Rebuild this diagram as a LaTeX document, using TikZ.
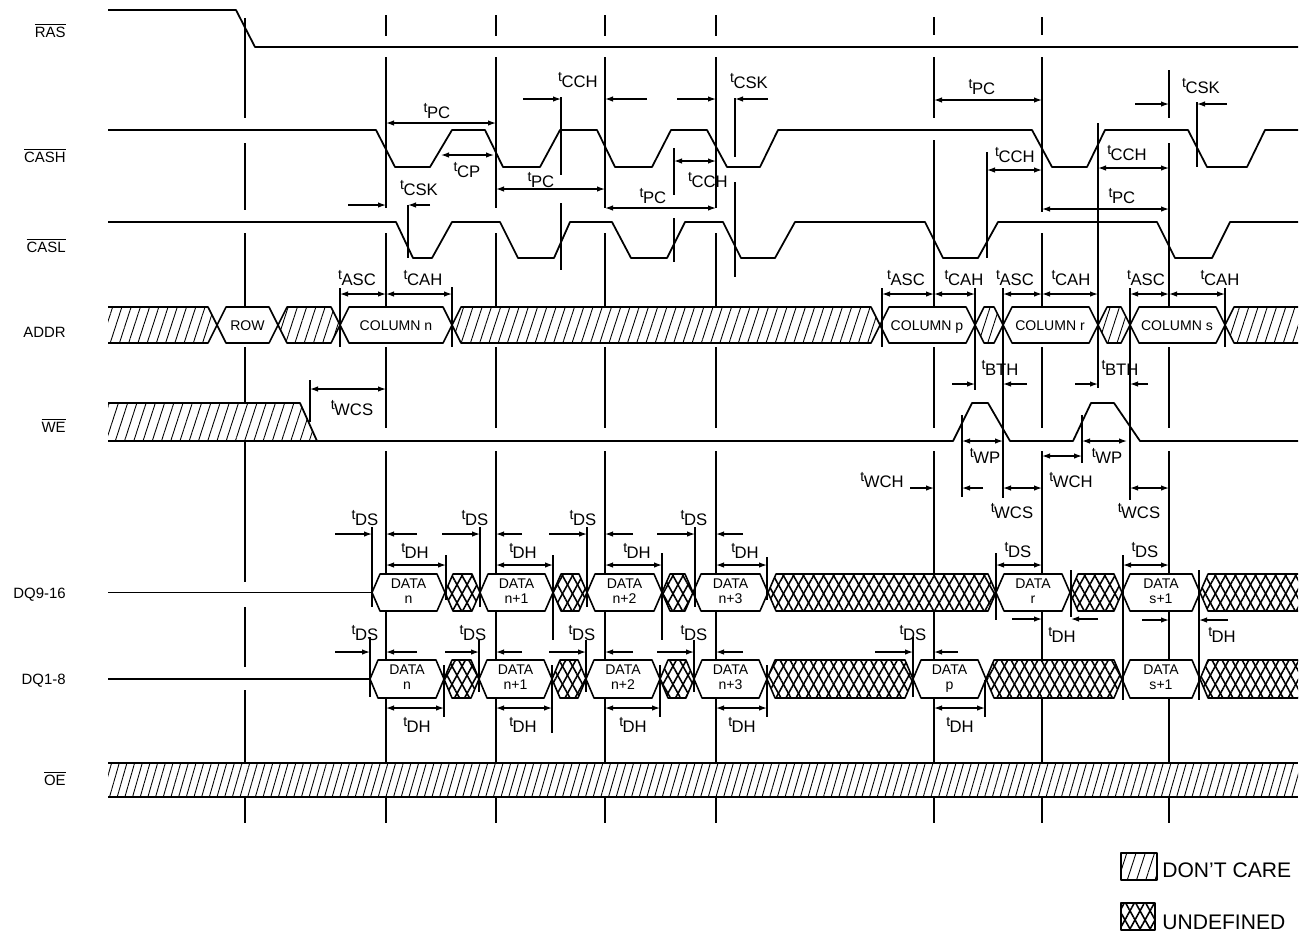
\documentclass[tikz,border=0pt]{standalone}
\usepackage{fontspec}
\setmainfont{Liberation Sans}
\usepackage{tikz}
\usetikzlibrary{arrows.meta}
\usetikzlibrary{patterns.meta}

% timing label: small raised t, then the parameter name
\newcommand{\tlab}[1]{\raisebox{3.2pt}{\fontsize{8}{8}\selectfont t}\kern-0.3pt{\fontsize{9.5}{10}\selectfont #1}}
\newcommand{\ovl}[1]{$\overline{\mbox{#1}}$}

% bus cells: style, left point, right point, top, bottom, inset
\newcommand{\cell}[6]{%
  \path[#1] (#2,{(#4+#5)/2}) -- ({#2+#6},#4) -- ({#3-#6},#4) -- (#3,{(#4+#5)/2}) -- ({#3-#6},#5) -- ({#2+#6},#5) -- cycle;}
\newcommand{\lcell}[6]{%
  \path[#1] (#2,#4) -- ({#3-#6},#4) -- (#3,{(#4+#5)/2}) -- ({#3-#6},#5) -- (#2,#5);}
\newcommand{\rcell}[6]{%
  \path[#1] (#3,#4) -- ({#2+#6},#4) -- (#2,{(#4+#5)/2}) -- ({#2+#6},#5) -- (#3,#5);}
\newcommand{\ucell}[5]{\cell{undefa}{#1}{#2}{#3}{#4}{#5}\cell{undefb,bus}{#1}{#2}{#3}{#4}{#5}}

\tikzset{
  wave/.style={line width=1pt, line join=round},
  bus/.style={draw, line width=0.9pt, line join=round},
  vline/.style={line width=0.7pt},
  dim/.style={{Latex[length=1.6mm,width=1.1mm]}-{Latex[length=1.6mm,width=1.1mm]}, line width=0.7pt},
  into/.style={-{Latex[length=1.6mm,width=1.1mm]}, line width=0.7pt},
  dcare/.style={pattern={Lines[angle=72,distance=5pt,line width=0.5pt]}},
  dcfine/.style={pattern={Lines[angle=74,distance=4.2pt,line width=0.5pt]}},
  undefa/.style={pattern={Lines[angle=61,distance=5pt,line width=0.9pt]}},
  undefb/.style={pattern={Lines[angle=119,distance=5pt,line width=0.9pt]}},
  sig/.style={anchor=base east, inner sep=0, font=\fontsize{8.5}{10}\selectfont},
  tl/.style={anchor=base, inner sep=0},
  boxtxt/.style={inner sep=0, text height=6pt, text depth=0pt, font=\fontsize{8}{10}\selectfont},
  datatxt/.style={inner sep=0, align=center, font=\fontsize{8}{8.5}\selectfont},
  legtxt/.style={anchor=base west, inner sep=0, font=\fontsize{12}{13}\selectfont}
}

\begin{document}
\begin{tikzpicture}[x=0.02cm, y=-0.02cm]
\useasboundingbox (0,0) rectangle (1300,938);

% signal names
\node[sig] (ras) at (66,37) {\ovl{RAS}};
\node[sig] (cash) at (66,162) {\ovl{CASH}};
\node[sig] (casl) at (66,252) {\ovl{CASL}};
\node[sig] (addr) at (66,337) {ADDR};
\node[sig] (we) at (66,432) {\ovl{WE}};
\node[sig] (dqh) at (66,598) {DQ9-16};
\node[sig] (dql) at (66,684) {DQ1-8};
\node[sig] (oe) at (66,785) {\ovl{OE}};

% RAS, CASH, CASL
\draw[wave] (108,10) -- (236,10) -- (255,47) -- (1298,47);
\draw[wave] (108,130) -- (376,130) -- (395,167) -- (430,167) -- (452,130) -- (485,130) -- (503,167) -- (540,167) -- (560,130) -- (597,130) -- (615,167) -- (652,167) -- (671,130) -- (707,130) -- (727,167) -- (760,167) -- (778,130) -- (1032,130) -- (1052,167) -- (1087,167) -- (1105,130) -- (1188,130) -- (1207,167) -- (1247,167) -- (1265,130) -- (1298,130);
\draw[wave] (108,222) -- (396,222) -- (413,258) -- (432,258) -- (452,222) -- (500,222) -- (518,258) -- (554,258) -- (570,222) -- (612,222) -- (631,258) -- (667,258) -- (685,222) -- (723,222) -- (741,258) -- (775,258) -- (795,222) -- (925,222) -- (943,258) -- (978,258) -- (998,222) -- (1157,222) -- (1175,258) -- (1212,258) -- (1230,222) -- (1298,222);

% ADDR
\lcell{dcare,bus}{108}{217}{307}{343}{9}
\cell{bus,fill=white}{217}{278}{307}{343}{9}
\cell{dcare,bus}{278}{340}{307}{343}{9}
\cell{bus,fill=white}{340}{452}{307}{343}{9}
\cell{dcare,bus}{452}{880}{307}{343}{9}
\cell{bus,fill=white}{880}{975}{307}{343}{9}
\cell{dcare,bus}{975}{1003}{307}{343}{9}
\cell{bus,fill=white}{1003}{1098}{307}{343}{9}
\cell{dcare,bus}{1098}{1130}{307}{343}{9}
\cell{bus,fill=white}{1130}{1225}{307}{343}{9}
\rcell{dcare,bus}{1225}{1298}{307}{343}{9}
\node[boxtxt] (row) at (247.5,325) {ROW};
\node[boxtxt] (coln) at (396,325) {COLUMN n};
\node[boxtxt] (colp) at (927,325) {COLUMN p};
\node[boxtxt] (colr) at (1050,325) {COLUMN r};
\node[boxtxt] (cols) at (1177,325) {COLUMN s};

% WE
\path[dcare,wave,draw] (108,403) -- (300,403) -- (317,441) -- (108,441);
\draw[wave] (317,441) -- (953,441) -- (972,403) -- (988,403) -- (1010,441) -- (1073,441) -- (1091,403) -- (1114,403) -- (1140,441) -- (1298,441);

% DQ9-16
\draw[wave] (108,592.5) -- (372,592.5);
\foreach \a/\b/\t [count=\i] in {372/445/n, 480/553/n+1, 587/662/n+2, 693/768/n+3, 996/1070/r, 1122/1200/s+1}
{
  \cell{bus,fill=white}{\a}{\b}{574}{611}{8}
  \node[datatxt] (dqh\i) at ({(\a+\b)/2},592.5) {DATA\\\t\vphantom{p}};
}
\foreach \a/\b in {445/480, 553/587, 662/693, 768/996, 1070/1122}
{
  \ucell{\a}{\b}{574}{611}{8}
}
\rcell{undefa}{1200}{1298}{574}{611}{8}
\rcell{undefb,bus}{1200}{1298}{574}{611}{8}

% DQ1-8
\draw[wave] (108,679) -- (370,679);
\foreach \a/\b/\t [count=\i] in {370/444/n, 479/552/n+1, 586/660/n+2, 694/767/n+3, 913/986/p, 1122/1200/s+1}
{
  \cell{bus,fill=white}{\a}{\b}{660}{698}{8}
  \node[datatxt] (dql\i) at ({(\a+\b)/2},679) {DATA\\\t\vphantom{p}};
}
\foreach \a/\b in {444/479, 552/586, 660/694, 767/913, 986/1122}
{
  \ucell{\a}{\b}{660}{698}{8}
}
\rcell{undefa}{1200}{1298}{660}{698}{8}
\rcell{undefb,bus}{1200}{1298}{660}{698}{8}

% OE
\path[dcfine] (108,763) rectangle (1298,797);
\draw[bus] (108,763) -- (1298,763) (108,797) -- (1298,797);

% reference lines
\foreach \ya/\yb in {18/118,143/210,233/307,347/402,442/582,607/667,690/763,797/823}
  \draw[vline] (245,\ya) -- (245,\yb);
\foreach \x in {386,496,605,716} {
  \draw[vline] (\x,15) -- (\x,36) (\x,57) -- (\x,208) (\x,233) -- (\x,307);
}
\draw[vline] (934,17) -- (934,35) (934,57) -- (934,118) (934,140) -- (934,307);
\draw[vline] (1042,17) -- (1042,35) (1042,57) -- (1042,212) (1042,233) -- (1042,307);
\draw[vline] (1169,70) -- (1169,118) (1169,143) -- (1169,307);
\foreach \x in {386,496,605,716,934,1042,1169} {
  \foreach \ya/\yb in {347/428,451/574,611/660,698/763,797/823}
    \draw[vline] (\x,\ya) -- (\x,\yb);
}

% ticks
\foreach \x/\ya/\yb in {408/205/258, 561/97/175, 561/203/270, 674/148/195, 674/218/262, 735/98/157, 735/182/277, 987/152/258, 1098/123/388, 1197/102/167, 340/288/347, 452/287/347, 882/288/347, 975/288/390, 1003/288/498, 1130/288/500, 1225/288/347, 962/415/497, 1082/415/463, 310/380/422}
  \draw[vline] (\x,\ya) -- (\x,\yb);
\foreach \x/\ya/\yb in {372/527/607, 480/527/607, 587/527/607, 695/527/607, 446/555/600, 553/555/640, 662/553/640, 767/557/600, 370/637/697, 479/640/692, 586/640/692, 694/640/692, 444/665/717, 552/665/733, 660/665/717, 767/665/717, 996/553/620, 1071/570/617, 1123/555/700, 1199/570/700, 913/637/697, 985/680/717}
  \draw[vline] (\x,\ya) -- (\x,\yb);

% dimension arrows
\foreach \y/\a/\b in {123/386/496, 155/441/494, 189/496/605, 208/605/716, 161/674/716, 100/934/1042, 170/987/1042, 168/1098/1169, 209/1042/1169, 294/340/386, 294/386/452, 294/882/934, 294/934/975, 294/1003/1042, 294/1042/1098, 294/1130/1169, 294/1169/1225, 389/310/386, 441/962/1003, 441/1082/1127, 488/1003/1042, 488/1130/1169, 456/1042/1082, 565/386/446, 565/496/553, 565/605/662, 565/716/767, 565/996/1042, 565/1123/1169, 708/386/444, 708/496/552, 708/605/660, 708/716/767, 708/934/985}
  \draw[dim] (\a,\y) -- (\b,\y);

% arrows from outside
\foreach \y/\a/\b/\c/\d in {205/348/386/408/430, 99/523/561/605/647, 99/677/716/735/768, 104/1135/1169/1197/1227, 384/952/975/1003/1027, 384/1075/1098/1130/1148, 488/910/934/962/983, 534/335/372/386/417, 534/442/480/496/522, 534/549/587/605/633, 534/657/695/716/743, 652/335/370/386/417, 652/445/479/496/522, 652/549/586/605/633, 652/657/694/716/743, 652/875/913/934/958, 619/1012/1042/1071/1098, 620/1142/1169/1199/1228}
{
  \draw[into] (\a,\y) -- (\b,\y);
  \draw[into] (\d,\y) -- (\c,\y);
}

% timing labels
\foreach \x/\y/\s [count=\i] in {437/118/PC, 467/177/CP, 419/195/CSK, 541/187/PC, 653/203/PC, 578/87/CCH, 749/88/CSK, 708/187/CCH, 982/94/PC, 1201/93/CSK, 1015/162/CCH, 1127/160/CCH, 1122/203/PC, 357/285/ASC, 423/285/CAH, 906/285/ASC, 964/285/CAH, 1015/285/ASC, 1071/285/CAH, 1146/285/ASC, 1220/285/CAH, 352/415/WCS, 1000/375/BTH, 1120/375/BTH, 985/463/WP, 1107/463/WP, 882/487/WCH, 1071/487/WCH, 1012/518/WCS, 1139/518/WCS}
  \node[tl] (tu\i) at (\x,\y) {\tlab{\s}};
\foreach \x/\y/\s [count=\i] in {365/525/DS, 475/525/DS, 583/525/DS, 694/525/DS, 415/558/DH, 523/558/DH, 637/558/DH, 745/558/DH, 365/640/DS, 473/640/DS, 582/640/DS, 694/640/DS, 417/732/DH, 523/732/DH, 633/732/DH, 742/732/DH, 1018/557/DS, 1145/557/DS, 1062/642/DH, 1222/642/DH, 913/640/DS, 960/732/DH}
  \node[tl] (td\i) at (\x,\y) {\tlab{\s}};

% legend
\path[dcare,bus] (1121,853) rectangle (1157,880);
\path[undefa] (1121,903) rectangle (1155,930);
\path[undefb,bus] (1121,903) rectangle (1155,930);
\node[legtxt] (dc) at (1162,877) {DON'T CARE};
\node[legtxt] (ud) at (1162,929) {UNDEFINED};
\end{tikzpicture}
\end{document}
